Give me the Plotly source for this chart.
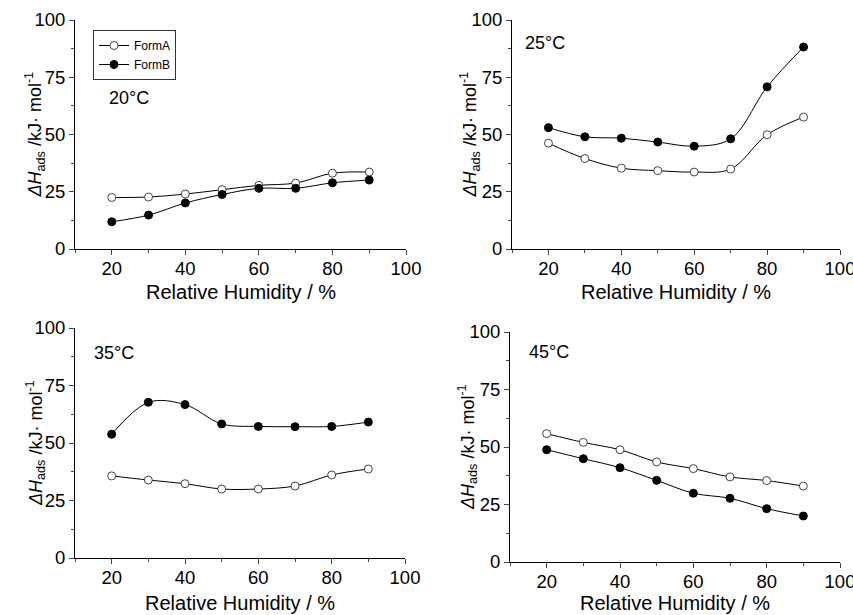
import plotly.graph_objects as go

rh = [20, 30, 40, 50, 60, 70, 80, 90]

a_20 = [22.5, 22.7, 24.0, 25.9, 27.8, 28.8, 33.1, 33.6]
b_20 = [11.9, 14.8, 20.1, 23.8, 26.5, 26.5, 28.9, 30.1]

a_25 = [46.2, 39.5, 35.3, 34.2, 33.6, 34.9, 49.9, 57.6]
b_25 = [53.0, 49.0, 48.4, 46.7, 44.9, 48.1, 70.8, 88.2]

a_35 = [35.7, 33.9, 32.3, 30.0, 30.0, 31.3, 36.1, 38.7]
b_35 = [53.8, 67.7, 66.7, 58.3, 57.2, 57.1, 57.2, 59.1]

a_45 = [55.8, 52.0, 48.8, 43.5, 40.6, 37.0, 35.4, 33.0]
b_45 = [48.8, 44.9, 41.0, 35.5, 29.9, 27.7, 23.2, 20.0]

temps = ["20°C", "25°C", "35°C", "45°C"]
series_a = [a_20, a_25, a_35, a_45]
series_b = [b_20, b_25, b_35, b_45]
x_title = "Relative Humidity / %"
y_title = "<i>ΔH</i><sub>ads</sub> /kJ· mol<sup>-1</sup>"

W, H = 853, 615
FONT = "Liberation Sans, Arial, sans-serif"

# panel pixel boxes: (left, right, top, bottom)
boxes = [(75, 406, 20, 249), (512, 840, 20, 249), (75, 405, 328, 558), (510, 840, 332, 562)]
label_pos = [(107, 98), (523, 43), (92, 353), (527, 352)]
ytitle_x = [35, 470, 35, 467]
xtitle_y = [292, 292, 603, 603]

fig = go.Figure()
for i in range(4):
    xa = "x" if i == 0 else f"x{i+1}"
    ya = "y" if i == 0 else f"y{i+1}"
    fig.add_trace(go.Scatter(
        x=rh, y=series_a[i], xaxis=xa, yaxis=ya, name="FormA",
        mode="lines+markers", line=dict(color="black", width=1, shape="spline", smoothing=1.0),
        marker=dict(symbol="circle", size=8, color="white", line=dict(color="#444", width=1)),
        showlegend=(i == 0)))
    fig.add_trace(go.Scatter(
        x=rh, y=series_b[i], xaxis=xa, yaxis=ya, name="FormB",
        mode="lines+markers", line=dict(color="black", width=1, shape="spline", smoothing=1.0),
        marker=dict(symbol="circle", size=8, color="black", line=dict(color="black", width=1)),
        showlegend=(i == 0)))

layout = dict(
    width=W, height=H, margin=dict(l=0, r=0, t=0, b=0, autoexpand=False),
    paper_bgcolor="white", plot_bgcolor="white",
    font=dict(family=FONT, color="black"),
    legend=dict(x=93 / W, y=1 - 30 / H, xanchor="left", yanchor="top",
                bordercolor="#333", borderwidth=1, bgcolor="white",
                font=dict(size=12, family=FONT), tracegroupgap=0, itemwidth=30),
)

for i, (l, r, t, b) in enumerate(boxes):
    xk = "xaxis" if i == 0 else f"xaxis{i+1}"
    yk = "yaxis" if i == 0 else f"yaxis{i+1}"
    ya = "y" if i == 0 else f"y{i+1}"
    xa = "x" if i == 0 else f"x{i+1}"
    layout[xk] = dict(
        domain=[l / W, r / W], range=[10, 100], anchor=ya, automargin=False,
        tickvals=[20, 40, 60, 80, 100], ticks="outside", ticklen=5, tickwidth=1,
        ticklabeloverflow="allow", ticklabelstandoff=-2,
        showline=True, linecolor="black", linewidth=1, showgrid=False, zeroline=False,
        minor=dict(tickvals=[10, 30, 50, 70, 90], ticks="outside", ticklen=3, tickwidth=1, showgrid=False),
        tickfont=dict(size=18.5, family=FONT),
    )
    layout[yk] = dict(
        domain=[1 - b / H, 1 - t / H], range=[0, 100], anchor=xa, automargin=False,
        tickvals=[0, 25, 50, 75, 100], ticks="outside", ticklen=5, tickwidth=1,
        ticklabeloverflow="allow",
        showline=True, linecolor="black", linewidth=1, showgrid=False, zeroline=False,
        minor=dict(tickvals=[12.5, 37.5, 62.5, 87.5], ticks="outside", ticklen=3, tickwidth=1, showgrid=False),
        tickfont=dict(size=18.5, family=FONT),
    )

fig.update_layout(**layout)

for i, (l, r, t, b) in enumerate(boxes):
    lx, ly = label_pos[i]
    fig.add_annotation(x=lx / W, y=1 - ly / H, xref="paper", yref="paper",
                       text=temps[i], showarrow=False, xanchor="left", yanchor="middle",
                       font=dict(size=18, family=FONT))
    fig.add_annotation(x=(l + r) / 2 / W, y=1 - xtitle_y[i] / H, xref="paper", yref="paper",
                       text=x_title, showarrow=False, xanchor="center", yanchor="middle",
                       font=dict(size=20, family=FONT))
    fig.add_annotation(x=ytitle_x[i] / W, y=1 - (t + b) / 2 / H, xref="paper", yref="paper",
                       text=y_title, showarrow=False, xanchor="center", yanchor="middle",
                       textangle=-90, font=dict(size=18, family=FONT))

fig.write_html("out.html")
